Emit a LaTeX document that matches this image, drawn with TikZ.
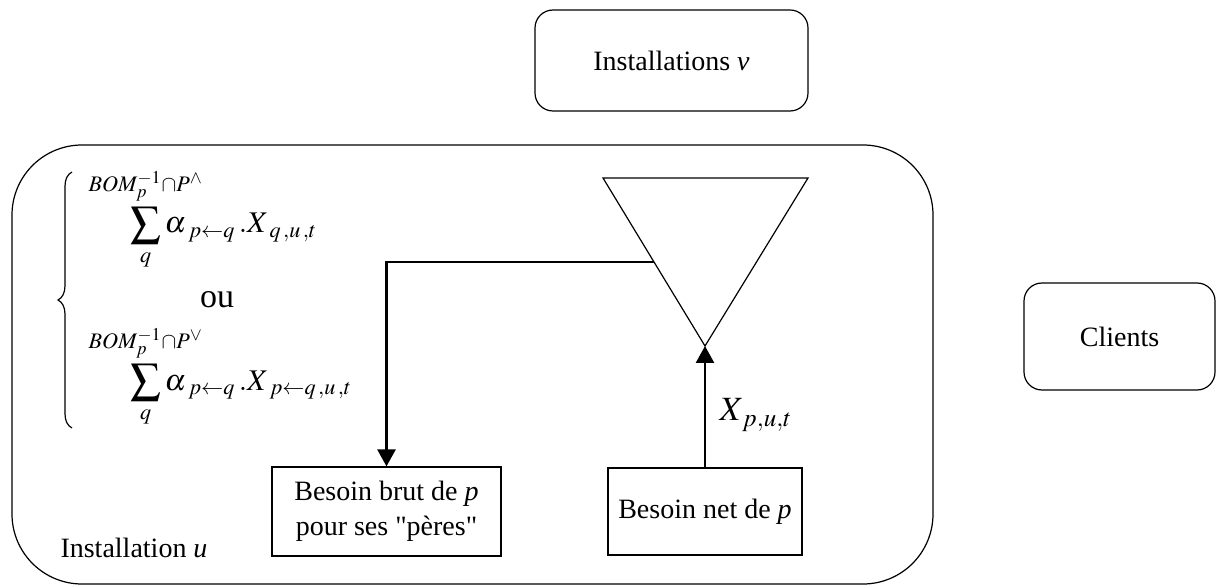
\documentclass[tikz,border=0pt]{standalone}
\usepackage{mathptmx}
\usepackage{fontspec}
\setmainfont{Liberation Serif}[Ligatures=TeXOff]
\usetikzlibrary{arrows.meta,decorations.pathreplacing}

\newcommand\gsum{\mathop{\vcenter{\hbox{$\displaystyle\sum$}}}\limits}
\newcommand\limh[1]{\makebox[0pt]{$\scriptstyle #1\rule[-6pt]{0pt}{6pt}$}}

\begin{document}
\begin{tikzpicture}[x=0.5pt,y=-0.5pt,>={Triangle[length=8.5pt,width=9pt]},
  every node/.style={font=\fontsize{14}{17.5}\selectfont},
  boite/.style={draw,line width=0.6pt,align=center,inner sep=0pt},
  arrondi/.style={boite,rounded corners=9pt},
  fleche/.style={line width=1.3pt,->},
  formule/.style={font=\fontsize{15}{18}\selectfont,anchor=base west,inner sep=0pt}]
  \useasboundingbox (0,0) rectangle (1216,588);
  % installations amont
  \node[arrondi,minimum width=136.5pt,minimum height=50.5pt] (instv) at (671.5,60.5) {Installations \textit{v}};
  % clients
  \node[arrondi,minimum width=95.5pt,minimum height=53.5pt] (clients) at (1119.5,336.5) {Clients};
  % installation courante
  \node[boite,rounded corners=35pt,minimum width=460.5pt,minimum height=219.5pt] (instu) at (472.5,364.5) {};
  \node (labu) at (134,548) {Installation \textit{u}};
  % stock (triangle)
  \coordinate (tg) at (603,178);
  \coordinate (td) at (808,178);
  \coordinate (apex) at (705,346);
  \coordinate (flanc) at (654,262);
  \draw[line width=0.6pt] (tg) -- (td) -- (apex) -- cycle;
  % besoins
  \node[boite,minimum width=114.5pt,minimum height=44.5pt] (brut) at (386.5,511.5) {Besoin brut de \textit{p}\\pour ses "pères"};
  \node[boite,minimum width=97pt,minimum height=43.5pt] (net) at (705,511.5) {Besoin net de \textit{p}};
  % flux
  \draw[fleche] (net) -- (apex);
  \node[font=\fontsize{17}{20}\selectfont] (xput) at (756,415) {$X_{\,p,u,t}$};
  \draw[fleche] (flanc) -| (brut);
  % formules
  \node[formule] (f1) at (130,233) {$\gsum_{q}^{\limh{BOM_{p}^{-1}\cap P^{\wedge}}}\alpha_{\;p\leftarrow q}\,.X_{\;q\,,u\,,t}$};
  \node[font=\fontsize{17}{20}\selectfont] (ou) at (217,300) {ou};
  \node[formule] (f2) at (130,390) {$\gsum_{q}^{\limh{BOM_{p}^{-1}\cap P^{\vee}}}\alpha_{\;p\leftarrow q}\,.X_{\;p\leftarrow q\,,u\,,t}$};
  \draw[line width=0.6pt,decorate,decoration={brace,amplitude=7pt}] (72,428) -- (72,172);
\end{tikzpicture}
\end{document}
